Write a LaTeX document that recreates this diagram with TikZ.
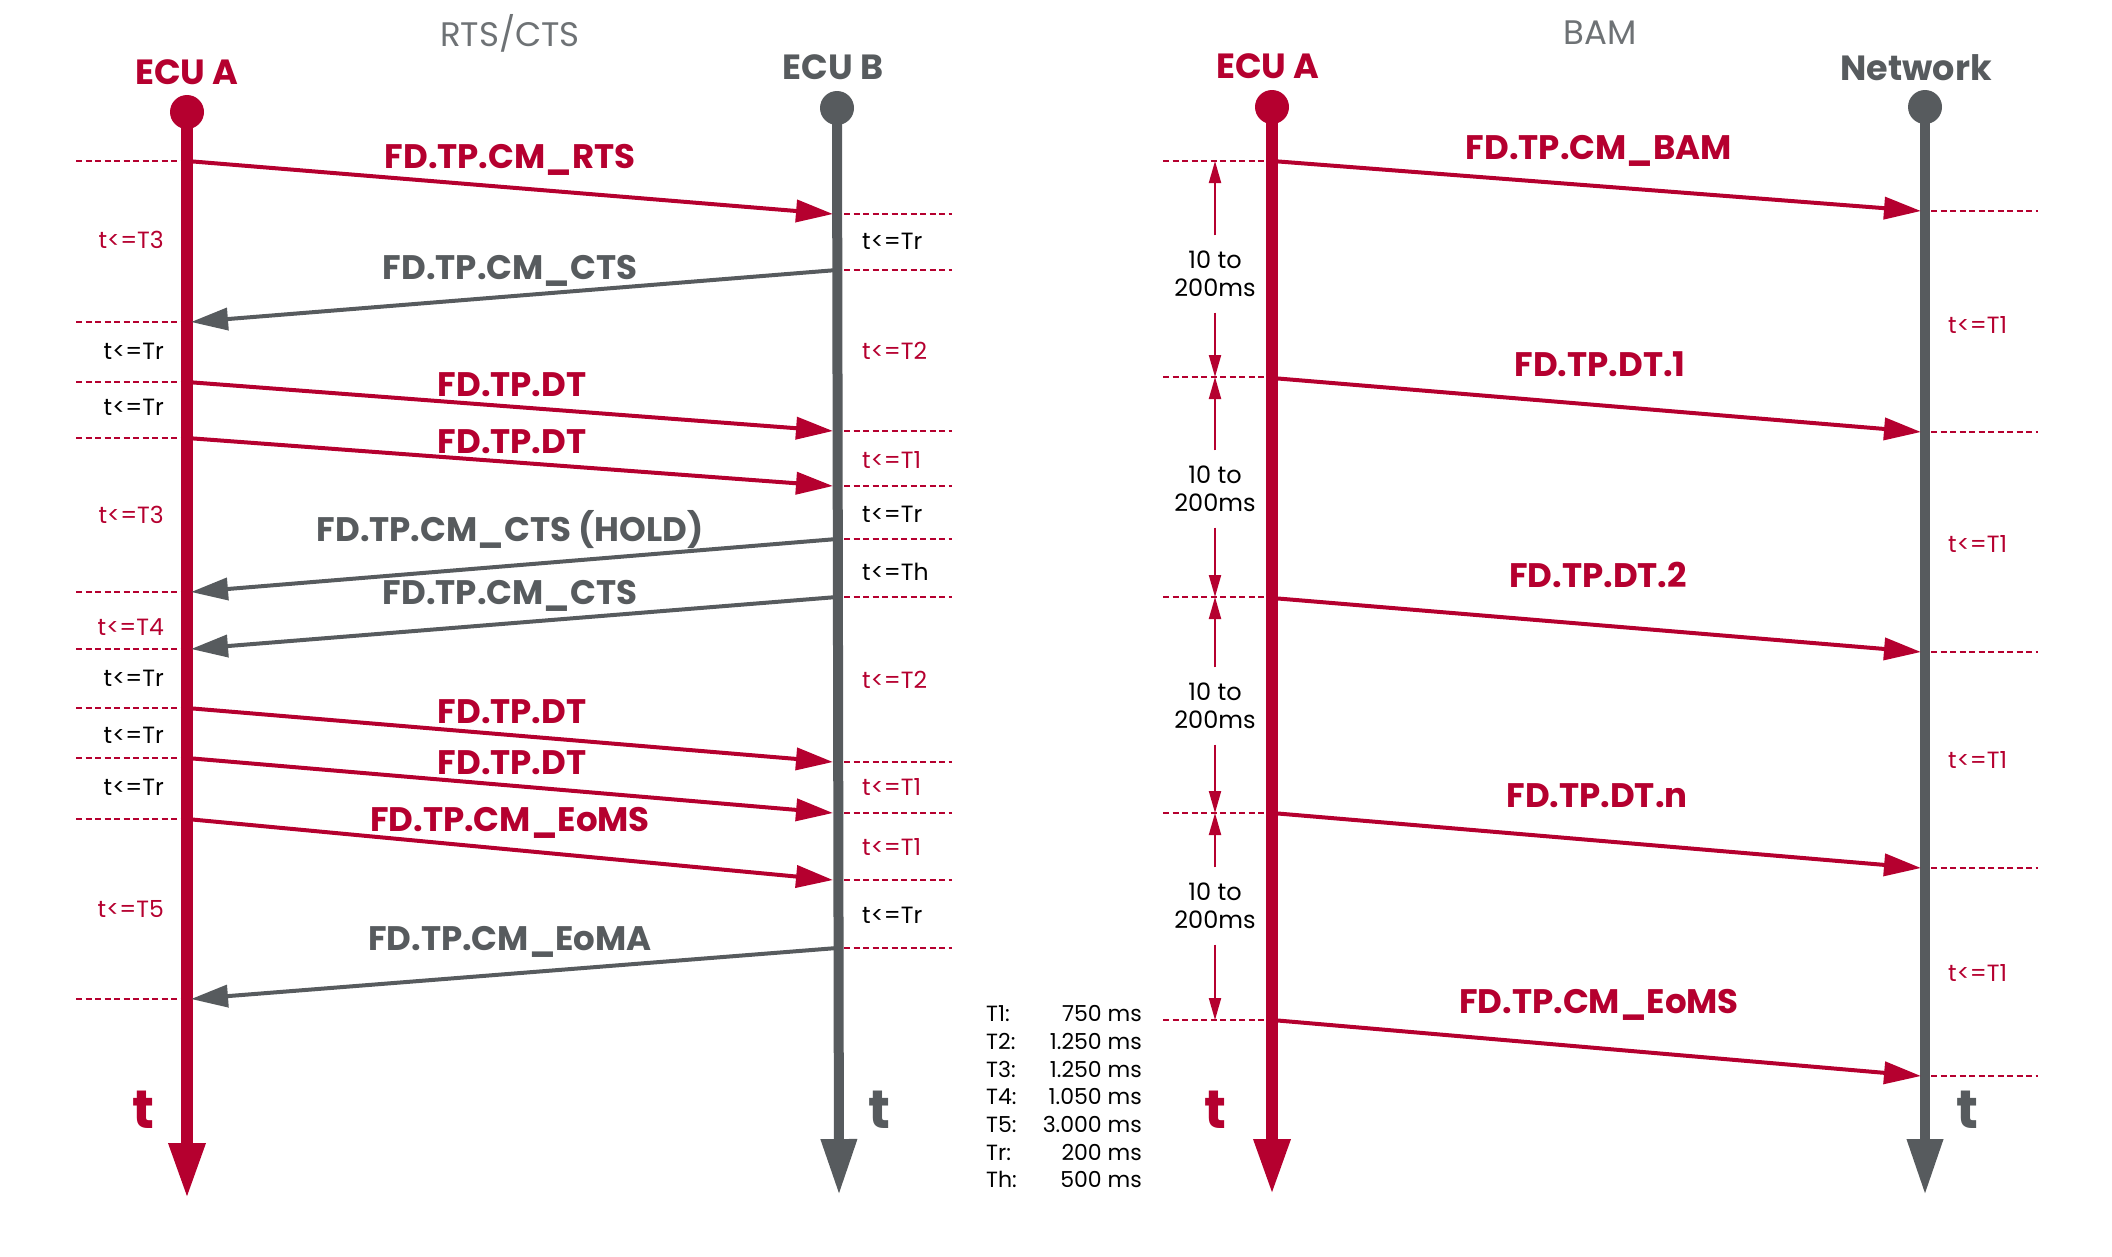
\documentclass[tikz,border=0pt]{standalone}
\usepackage{fontspec}
\setmainfont{Poppins}
\usetikzlibrary{arrows.meta}
\definecolor{vred}{HTML}{B5002F}
\definecolor{vgray}{HTML}{575B5E}
\definecolor{tgray}{HTML}{6E7275}
\begin{document}
\begin{tikzpicture}[x=1pt,y=-1pt,
  lifeR/.style={draw=vred,line width=12pt,-{Triangle[length=56pt,width=34pt]}},
  lifeG/.style={draw=vgray,line width=10pt,-{Triangle[length=56pt,width=34pt]}},
  dotR/.style={circle,fill=vred,minimum size=34pt,inner sep=0pt},
  dotG/.style={circle,fill=vgray,minimum size=34pt,inner sep=0pt},
  dsh/.style={draw=vred,line width=2.8pt,dash pattern=on 6pt off 3.5pt},
  msgR/.style={draw=vred,line width=4pt,-{Triangle[length=37pt,width=22pt]}},
  msgG/.style={draw=vgray,line width=4pt,-{Triangle[length=37pt,width=22pt]}},
  tarr/.style={draw=vred,line width=2pt,-{Triangle[length=22pt,width=12pt]}},
  head/.style={font=\fontsize{35}{40}\selectfont\bfseries,anchor=base,inner sep=0pt},
  title/.style={font=\fontsize{34}{40}\selectfont,text=tgray,anchor=base,inner sep=0pt},
  lbl/.style={font=\fontsize{34}{40}\selectfont\bfseries,anchor=base,inner sep=0pt},
  sm/.style={font=\fontsize{23.5}{27}\selectfont,inner sep=0pt},
  lg/.style={font=\fontsize{22}{27}\selectfont,inner sep=0pt},
  bigt/.style={font=\fontsize{54}{60}\selectfont\bfseries,anchor=base,inner sep=0pt},
  tm/.style={font=\fontsize{24}{27.5}\selectfont,align=center,minimum height=77pt,inner sep=0pt}
]
\useasboundingbox (0,0) rectangle (2112,1256);

% ---------- RTS/CTS ----------
\node[title] (t1) at (510,46) {RTS/CTS};
\node[head,text=vred] (hA) at (187,84) {ECU A};
\node[head,text=vgray] (hB) at (833,79) {ECU B};

\coordinate (Atop) at (187,112); \coordinate (Abot) at (187,1199);
\coordinate (Btop) at (837,108); \coordinate (Bbot) at (839,1195);
\draw[lifeR] (Atop) -- (Abot);
\draw[lifeG] (Btop) -- (Bbot);
\node[dotR] (dA) at (Atop) {};
\node[dotG] (dB) at (Btop) {};

\foreach \y [count=\i] in {161,322,382,438,592,649,708,758,819,999}{
  \coordinate (la\i) at (76,\y); \coordinate (ra\i) at (181,\y);
  \draw[dsh] (la\i) -- (ra\i);}
\foreach \y [count=\i] in {214,270,431,486,539,597,762,813,880,948}{
  \coordinate (lb\i) at (844,\y); \coordinate (rb\i) at (952,\y);
  \draw[dsh] (lb\i) -- (rb\i);}

% messages A -> B
\foreach \ya/\yb [count=\i] in {161/214,382/431,438/486,708/762,758/813,819/880}{
  \coordinate (sab\i) at (187,\ya); \coordinate (eab\i) at (833,\yb);
  \draw[msgR] (sab\i) -- (eab\i);}
% messages B -> A
\foreach \yb/\ya [count=\i] in {270/322,539/592,597/649,948/999}{
  \coordinate (sba\i) at (837,\yb); \coordinate (eba\i) at (191,\ya);
  \draw[msgG] (sba\i) -- (eba\i);}

\node[lbl,text=vred]  (m1) at (510,168) {FD.TP.CM\_RTS};
\node[lbl,text=vgray] (m2) at (510,279) {FD.TP.CM\_CTS};
\node[lbl,text=vred]  (m3) at (512,396) {FD.TP.DT};
\node[lbl,text=vred]  (m4) at (512,453) {FD.TP.DT};
\node[lbl,text=vgray] (m5) at (510,541) {FD.TP.CM\_CTS (HOLD)};
\node[lbl,text=vgray] (m6) at (510,604) {FD.TP.CM\_CTS};
\node[lbl,text=vred]  (m7) at (512,723) {FD.TP.DT};
\node[lbl,text=vred]  (m8) at (512,774) {FD.TP.DT};
\node[lbl,text=vred]  (m9) at (510,831) {FD.TP.CM\_EoMS};
\node[lbl,text=vgray] (m10) at (510,950) {FD.TP.CM\_EoMA};

% left timers (right aligned)
\node[sm,anchor=base east,text=vred]  (ta1) at (164,248) {t<=T3};
\node[sm,anchor=base east,text=black] (ta2) at (164,359) {t<=Tr};
\node[sm,anchor=base east,text=black] (ta3) at (164,415) {t<=Tr};
\node[sm,anchor=base east,text=vred]  (ta4) at (164,523) {t<=T3};
\node[sm,anchor=base east,text=vred]  (ta5) at (164,635) {t<=T4};
\node[sm,anchor=base east,text=black] (ta6) at (164,686) {t<=Tr};
\node[sm,anchor=base east,text=black] (ta7) at (164,743) {t<=Tr};
\node[sm,anchor=base east,text=black] (ta8) at (164,795) {t<=Tr};
\node[sm,anchor=base east,text=vred]  (ta9) at (164,917) {t<=T5};
% right timers (left aligned)
\node[sm,anchor=base west,text=black] (tb1) at (862,249) {t<=Tr};
\node[sm,anchor=base west,text=vred]  (tb2) at (862,359) {t<=T2};
\node[sm,anchor=base west,text=vred]  (tb3) at (862,468) {t<=T1};
\node[sm,anchor=base west,text=black] (tb4) at (862,522) {t<=Tr};
\node[sm,anchor=base west,text=black] (tb5) at (862,580) {t<=Th};
\node[sm,anchor=base west,text=vred]  (tb6) at (862,688) {t<=T2};
\node[sm,anchor=base west,text=vred]  (tb7) at (862,795) {t<=T1};
\node[sm,anchor=base west,text=vred]  (tb8) at (862,855) {t<=T1};
\node[sm,anchor=base west,text=black] (tb9) at (862,923) {t<=Tr};

\node[bigt,text=vred]  (tA) at (143,1128) {t};
\node[bigt,text=vgray] (tB) at (879,1128) {t};

% ---------- legend ----------
\foreach \k/\v/\y [count=\i] in {T1:/750 ms/1021,T2:/1.250 ms/1049,T3:/1.250 ms/1077,T4:/1.050 ms/1104,T5:/3.000 ms/1132,Tr:/200 ms/1160,Th:/500 ms/1187}{
  \node[lg,anchor=base west] (lk\i) at (986,\y) {\k};
  \node[lg,anchor=base east] (lv\i) at (1142,\y) {\v};}

% ---------- BAM ----------
\node[title] (t2) at (1600,44) {BAM};
\node[head,text=vred]  (hC) at (1268,78) {ECU A};
\node[head,text=vgray] (hN) at (1916,80) {Network};

\coordinate (Ctop) at (1272,107); \coordinate (Cbot) at (1272,1195);
\coordinate (Ntop) at (1925,107); \coordinate (Nbot) at (1925,1195);
\draw[lifeR] (Ctop) -- (Cbot);
\draw[lifeG] (Ntop) -- (Nbot);
\node[dotR] (dC) at (Ctop) {};
\node[dotG] (dN) at (Ntop) {};

\foreach \y [count=\i] in {161,377,597,813,1020}{
  \coordinate (lc\i) at (1163,\y); \coordinate (rc\i) at (1266,\y);
  \draw[dsh] (lc\i) -- (rc\i);}
\foreach \y [count=\i] in {211,432,652,868,1076}{
  \coordinate (ln\i) at (1931,\y); \coordinate (rn\i) at (2038,\y);
  \draw[dsh] (ln\i) -- (rn\i);}
\foreach \ya/\yb [count=\i] in {161/211,378/432,598/652,813/868,1020/1076}{
  \coordinate (scn\i) at (1272,\ya); \coordinate (ecn\i) at (1921,\yb);
  \draw[msgR] (scn\i) -- (ecn\i);}

\node[lbl,text=vred] (n1) at (1599,159) {FD.TP.CM\_BAM};
\node[lbl,text=vred] (n2) at (1600,376) {FD.TP.DT.1};
\node[lbl,text=vred] (n3) at (1598,587) {FD.TP.DT.2};
\node[lbl,text=vred] (n4) at (1597,807) {FD.TP.DT.n};
\node[lbl,text=vred] (n5) at (1599,1013) {FD.TP.CM\_EoMS};

\foreach \y [count=\i] in {333,552,768,981}{
  \node[sm,anchor=base west,text=vred] (tn\i) at (1948,\y) {t<=T1};}

% timing arrows
\foreach \yt/\ym/\yb [count=\i] in {161/274/377,377/489/597,597/706/813,813/906/1020}{
  \coordinate (wt\i) at (1215,\yt); \coordinate (wb\i) at (1215,\yb);
  \node[tm] (w\i) at (1215,\ym) {10 to\\200ms};
  \draw[tarr] (w\i.north) -- (wt\i);
  \draw[tarr] (w\i.south) -- (wb\i);}

\node[bigt,text=vred]  (tC) at (1215,1128) {t};
\node[bigt,text=vgray] (tN) at (1967,1128) {t};
\end{tikzpicture}
\end{document}
